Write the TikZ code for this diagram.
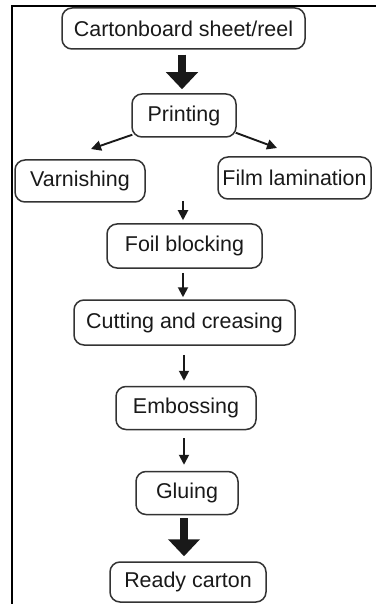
\documentclass[tikz,border=0pt]{standalone}
\usepackage{fontspec}
\setmainfont{Liberation Sans}
\usetikzlibrary{arrows.meta}
\begin{document}
\begin{tikzpicture}[x=0.02cm,y=-0.02cm,
  stage/.style={draw=black!80, line width=1.5*0.02cm, rounded corners=10*0.02cm,
    inner sep=0pt, font=\fontsize{12.2}{14}\selectfont, text=black!90},
  thin/.style={line width=1.9*0.02cm, draw=black!90,
    -{Triangle[length=10*0.02cm, width=10*0.02cm]}},
  thick/.style={line width=8*0.02cm, draw=black!90,
    -{Triangle[length=17*0.02cm, width=31*0.02cm]}},
  frame/.style={line width=2*0.02cm, draw=black}]
\useasboundingbox (0,0) rectangle (376,604);
% page frame: top and left rules only
\draw[frame] (12,604) -- (12,6) -- (376,6);

% process stages
\node[stage, minimum width=243*0.02cm, minimum height=41*0.02cm] (cart) at (183.5,28.5) {Cartonboard sheet/reel};
\node[stage, minimum width=104*0.02cm, minimum height=43*0.02cm] (print) at (184,115.5) {Printing};
\node[stage, minimum width=130*0.02cm, minimum height=42*0.02cm] (varn) at (80,181) {Varnishing};
\node[stage, minimum width=153*0.02cm, minimum height=42*0.02cm] (film) at (294.5,178) {Film lamination};
\node[stage, minimum width=155*0.02cm, minimum height=44*0.02cm] (foil) at (184.5,246) {Foil blocking};
\node[stage, minimum width=221*0.02cm, minimum height=45*0.02cm] (cut) at (184.5,322.5) {Cutting and creasing};
\node[stage, minimum width=140*0.02cm, minimum height=43*0.02cm] (emb) at (186,408) {Embossing};
\node[stage, minimum width=102*0.02cm, minimum height=43*0.02cm] (glue) at (187,493) {Gluing};
\node[stage, minimum width=156*0.02cm, minimum height=40*0.02cm] (ready) at (188,582) {Ready carton};

% connectors
\coordinate (merge) at (183,201);
\coordinate (vtip) at (91,149);
\coordinate (ftip) at (277,148);

\draw[thick, shorten <=5*0.02cm, shorten >=4*0.02cm] (cart.south -| 182,0) -- (print.north -| 182,0);
\draw[thin] (print.south west) ++(1,-3) -- (vtip);
\draw[thin] (print.south east) ++(-1,-5) -- (ftip);
\draw[thin, shorten >=3*0.02cm] (merge) -- (foil.north -| merge);
\draw[thin, shorten <=4*0.02cm, shorten >=2*0.02cm] (foil.south -| 183,0) -- (cut.north -| 183,0);
\draw[thin, shorten <=9*0.02cm, shorten >=5*0.02cm] (cut.south -| 184,0) -- (emb.north -| 184,0);
\draw[thin, shorten <=8*0.02cm, shorten >=6*0.02cm] (emb.south -| 184,0) -- (glue.north -| 184,0);
\draw[thick, shorten <=3*0.02cm, shorten >=5*0.02cm] (glue.south -| 184,0) -- (ready.north -| 184,0);
\end{tikzpicture}
\end{document}
